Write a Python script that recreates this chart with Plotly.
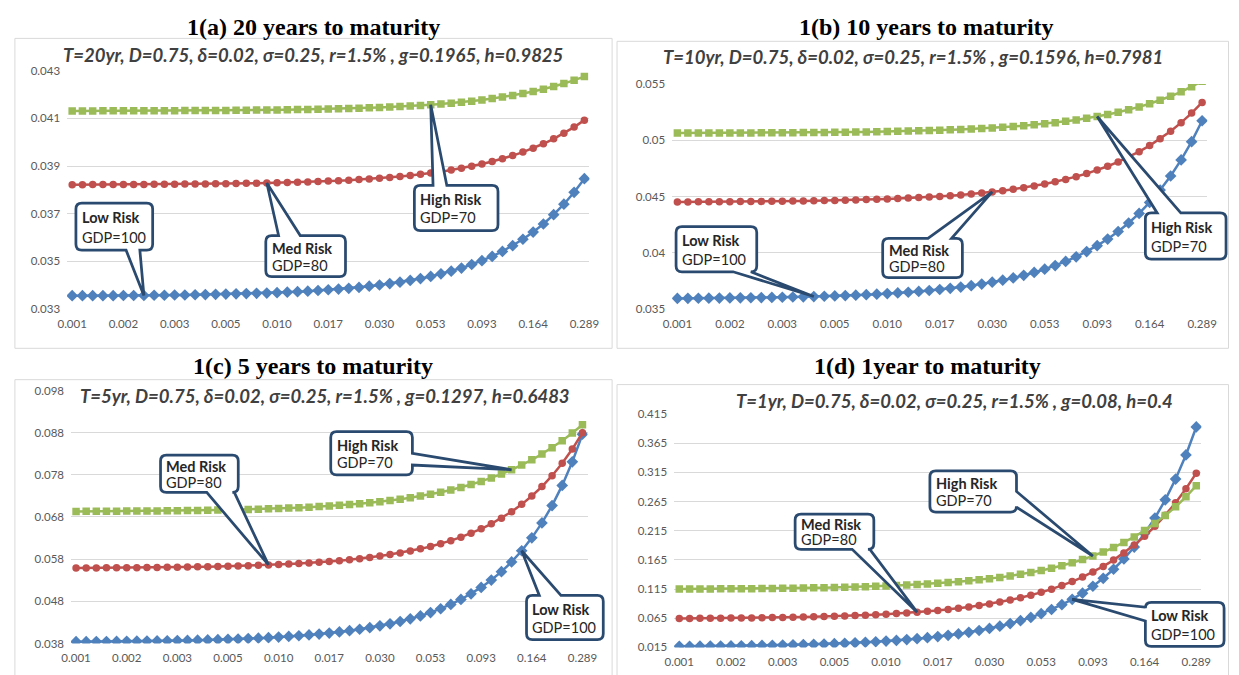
import plotly.graph_objects as go

# ---------------------------------------------------------------------------
# Data: default spread on the horizontal axis (51 points, label every 5th)
# ---------------------------------------------------------------------------
tick_labels = ["0.001", "0.002", "0.003", "0.005", "0.010", "0.017",
               "0.030", "0.053", "0.093", "0.164", "0.289"]
LABEL_EVERY = 5

# T = 20 years
low_20 = [0.03356, 0.03356, 0.03356, 0.03356, 0.03356, 0.03357, 0.03357, 0.03357, 0.03358, 0.03358,
          0.03359, 0.03359, 0.03360, 0.03361, 0.03362, 0.03363, 0.03364, 0.03365, 0.03366, 0.03367,
          0.03369, 0.03371, 0.03373, 0.03375, 0.03378, 0.03381, 0.03384, 0.03387, 0.03391, 0.03396,
          0.03401, 0.03407, 0.03413, 0.03420, 0.03428, 0.03437, 0.03448, 0.03459, 0.03472, 0.03487,
          0.03503, 0.03521, 0.03542, 0.03566, 0.03593, 0.03623, 0.03657, 0.03696, 0.03740, 0.03790,
          0.03847]
med_20 = [0.038219, 0.038221, 0.038222, 0.038223, 0.038225, 0.038227, 0.038229, 0.038231, 0.038233, 0.038236,
          0.038239, 0.038243, 0.038247, 0.038251, 0.038256, 0.038261, 0.038268, 0.038275, 0.038282, 0.038291,
          0.038301, 0.038312, 0.038324, 0.038337, 0.038353, 0.038370, 0.038389, 0.038410, 0.038435, 0.038461,
          0.038492, 0.038525, 0.038563, 0.038606, 0.038653, 0.038706, 0.038766, 0.038833, 0.038907, 0.038991,
          0.039085, 0.039190, 0.039307, 0.039439, 0.039586, 0.039751, 0.039936, 0.040144, 0.040376, 0.040636,
          0.040927]
high_20 = [0.041315, 0.041316, 0.041316, 0.041317, 0.041318, 0.041319, 0.041320, 0.041321, 0.041322, 0.041324,
           0.041326, 0.041327, 0.041329, 0.041332, 0.041334, 0.041337, 0.041341, 0.041344, 0.041348, 0.041353,
           0.041358, 0.041364, 0.041371, 0.041378, 0.041386, 0.041395, 0.041405, 0.041417, 0.041429, 0.041444,
           0.041460, 0.041478, 0.041498, 0.041520, 0.041546, 0.041574, 0.041606, 0.041641, 0.041681, 0.041725,
           0.041775, 0.041831, 0.041894, 0.041964, 0.042042, 0.042130, 0.042228, 0.042339, 0.042462, 0.042600,
           0.042755]

# T = 10 years
low_10 = [0.035949, 0.035955, 0.035961, 0.035969, 0.035977, 0.035986, 0.035997, 0.036008, 0.036021, 0.036036,
          0.036052, 0.036071, 0.036091, 0.036114, 0.036140, 0.036169, 0.036201, 0.036237, 0.036278, 0.036324,
          0.036375, 0.036432, 0.036496, 0.036568, 0.036648, 0.036739, 0.036840, 0.036954, 0.037082, 0.037225,
          0.037386, 0.037567, 0.037770, 0.037998, 0.038255, 0.038543, 0.038868, 0.039233, 0.039645, 0.040109,
          0.040633, 0.041224, 0.041892, 0.042648, 0.043503, 0.044473, 0.045574, 0.046826, 0.048251, 0.049876,
          0.051732]
med_10 = [0.044521, 0.044524, 0.044529, 0.044533, 0.044538, 0.044544, 0.044551, 0.044558, 0.044566, 0.044575,
          0.044585, 0.044597, 0.044610, 0.044624, 0.044640, 0.044658, 0.044678, 0.044701, 0.044726, 0.044754,
          0.044786, 0.044822, 0.044861, 0.044906, 0.044956, 0.045012, 0.045075, 0.045145, 0.045223, 0.045311,
          0.045410, 0.045520, 0.045644, 0.045782, 0.045937, 0.046111, 0.046305, 0.046523, 0.046767, 0.047041,
          0.047347, 0.047689, 0.048073, 0.048503, 0.048985, 0.049524, 0.050128, 0.050805, 0.051563, 0.052412,
          0.053362]
high_10 = [0.050636, 0.050638, 0.050640, 0.050642, 0.050645, 0.050648, 0.050652, 0.050655, 0.050660, 0.050664,
           0.050670, 0.050676, 0.050682, 0.050690, 0.050698, 0.050708, 0.050718, 0.050730, 0.050743, 0.050758,
           0.050774, 0.050793, 0.050814, 0.050837, 0.050863, 0.050892, 0.050925, 0.050961, 0.051002, 0.051048,
           0.051099, 0.051157, 0.051221, 0.051293, 0.051374, 0.051465, 0.051566, 0.051680, 0.051807, 0.051949,
           0.052109, 0.052287, 0.052488, 0.052712, 0.052963, 0.053244, 0.053559, 0.053911, 0.054306, 0.054749,
           0.055244]

# T = 5 years
low_5 = [0.038425, 0.038440, 0.038457, 0.038476, 0.038497, 0.038521, 0.038547, 0.038577, 0.038611, 0.038648,
         0.038690, 0.038737, 0.038789, 0.038848, 0.038915, 0.038989, 0.039072, 0.039166, 0.039271, 0.039388,
         0.039521, 0.039669, 0.039836, 0.040023, 0.040234, 0.040471, 0.040737, 0.041038, 0.041376, 0.041757,
         0.042187, 0.042672, 0.043221, 0.043841, 0.044544, 0.045341, 0.046245, 0.047272, 0.048442, 0.049776,
         0.051299, 0.053043, 0.055043, 0.057342, 0.059990, 0.063048, 0.066588, 0.070699, 0.075485, 0.081075,
         0.087622]
med_5 = [0.055896, 0.055908, 0.055920, 0.055935, 0.055951, 0.055969, 0.055990, 0.056013, 0.056038, 0.056067,
         0.056099, 0.056135, 0.056175, 0.056220, 0.056271, 0.056327, 0.056391, 0.056462, 0.056541, 0.056631,
         0.056731, 0.056843, 0.056969, 0.057111, 0.057269, 0.057447, 0.057647, 0.057871, 0.058123, 0.058406,
         0.058724, 0.059081, 0.059483, 0.059935, 0.060444, 0.061017, 0.061662, 0.062391, 0.063213, 0.064142,
         0.065192, 0.066380, 0.067728, 0.069256, 0.070992, 0.072968, 0.075220, 0.077791, 0.080731, 0.084100,
         0.087971]
high_5 = [0.069330, 0.069340, 0.069350, 0.069362, 0.069376, 0.069391, 0.069408, 0.069427, 0.069448, 0.069472,
          0.069498, 0.069528, 0.069561, 0.069598, 0.069640, 0.069687, 0.069739, 0.069798, 0.069863, 0.069937,
          0.070019, 0.070111, 0.070214, 0.070329, 0.070457, 0.070601, 0.070762, 0.070942, 0.071144, 0.071369,
          0.071620, 0.071901, 0.072214, 0.072564, 0.072955, 0.073390, 0.073876, 0.074417, 0.075019, 0.075690,
          0.076434, 0.077262, 0.078179, 0.079196, 0.080320, 0.081562, 0.082931, 0.084437, 0.086089, 0.087896,
          0.089865]

# T = 1 year
low_1 = [0.016831, 0.016955, 0.017093, 0.017249, 0.017424, 0.017618, 0.017837, 0.018082, 0.018356, 0.018664,
         0.019008, 0.019395, 0.019827, 0.020312, 0.020856, 0.021467, 0.022150, 0.022917, 0.023777, 0.024742,
         0.025824, 0.027039, 0.028402, 0.029933, 0.031653, 0.033585, 0.035756, 0.038197, 0.040942, 0.044032,
         0.047512, 0.051431, 0.055851, 0.060838, 0.066469, 0.072832, 0.080032, 0.088186, 0.097433, 0.107932,
         0.119868, 0.133462, 0.148968, 0.166688, 0.186977, 0.210255, 0.236823, 0.267876, 0.303529, 0.344834,
         0.392818]
med_1 = [0.064565, 0.064669, 0.064785, 0.064915, 0.065062, 0.065224, 0.065408, 0.065613, 0.065842, 0.066099,
         0.066387, 0.066709, 0.067070, 0.067474, 0.067927, 0.068435, 0.069003, 0.069639, 0.070352, 0.071150,
         0.072044, 0.073046, 0.074167, 0.075423, 0.076830, 0.078405, 0.080170, 0.082146, 0.084360, 0.086839,
         0.089615, 0.092725, 0.096208, 0.100110, 0.104479, 0.109372, 0.114853, 0.120991, 0.127866, 0.135566,
         0.144189, 0.153848, 0.164665, 0.176782, 0.190352, 0.205550, 0.222571, 0.241636, 0.262988, 0.286903,
         0.313687]
high_1 = [0.115015, 0.115089, 0.115171, 0.115264, 0.115368, 0.115484, 0.115614, 0.115760, 0.115923, 0.116105,
          0.116310, 0.116540, 0.116796, 0.117083, 0.117406, 0.117767, 0.118170, 0.118623, 0.119129, 0.119697,
          0.120332, 0.121045, 0.121842, 0.122735, 0.123735, 0.124855, 0.126110, 0.127515, 0.129089, 0.130851,
          0.132825, 0.135036, 0.137513, 0.140287, 0.143393, 0.146872, 0.150769, 0.155133, 0.160021, 0.165495,
          0.171626, 0.178494, 0.186185, 0.194799, 0.204447, 0.215253, 0.227355, 0.240909, 0.256091, 0.273093,
          0.292136]

# y-axis ticks per panel
yticks_20 = [0.033, 0.035, 0.037, 0.039, 0.041, 0.043]
ylabels_20 = ["0.033", "0.035", "0.037", "0.039", "0.041", "0.043"]
yticks_10 = [0.035, 0.040, 0.045, 0.050, 0.055]
ylabels_10 = ["0.035", "0.04", "0.045", "0.05", "0.055"]
yticks_5 = [0.038, 0.048, 0.058, 0.068, 0.078, 0.088, 0.098]
ylabels_5 = ["0.038", "0.048", "0.058", "0.068", "0.078", "0.088", "0.098"]
yticks_1 = [0.015, 0.065, 0.115, 0.165, 0.215, 0.265, 0.315, 0.365, 0.415]
ylabels_1 = ["0.015", "0.065", "0.115", "0.165", "0.215", "0.265", "0.315", "0.365", "0.415"]

# ---------------------------------------------------------------------------
# Styling / page geometry (pixels)
# ---------------------------------------------------------------------------
W, H = 1239, 675
BLUE, RED, GREEN = "#4F81BD", "#C0504D", "#9BBB59"
FRAME = "#D9D9D9"
TICK_GREY = "#595959"
CALLOUT_LINE = "#2B4A6F"
SANS = "Lato, 'Noto Sans', 'Liberation Sans', sans-serif"
SERIF = "'Liberation Serif', 'Times New Roman', serif"

n_points = len(low_20)
positions = list(range(n_points))
X_RANGE = [-0.5, n_points - 0.5]

panels = [
    dict(title="1(a) 20 years to maturity", title_xy=(308, 20),
         note="T=20yr, D=0.75, δ=0.02, σ=0.25, r=1.5% , g=0.1965, h=0.9825", note_xy=(308, 49),
         series=dict(low=low_20, med=med_20, high=high_20),
         yrange=[0.033, 0.043], yticks=yticks_20, ylabels=ylabels_20,
         plot=(58, 65, 589, 308), frame=(5, 32, 612, 348),
         callouts=[
             dict(series="low", at=7, head="Low Risk", sub="GDP=100",
                  box=(67, 200, 145, 248), edge="bottom", base=(118, 132)),
             dict(series="med", at=19, head="Med Risk", sub="GDP=80",
                  box=(260, 233, 341, 275), edge="top", base=(273, 295)),
             dict(series="high", at=35, head="High Risk", sub="GDP=70",
                  box=(411, 182, 496, 228), edge="top", base=(430, 444)),
         ]),
    dict(title="1(b) 10 years to maturity", title_xy=(932, 20),
         note="T=10yr, D=0.75, δ=0.02, σ=0.25, r=1.5% , g=0.1596, h=0.7981", note_xy=(918, 51),
         series=dict(low=low_10, med=med_10, high=high_10),
         yrange=[0.035, 0.055], yticks=yticks_10, ylabels=ylabels_10,
         plot=(673, 78.5, 1217, 308), frame=(617, 35, 1238.5, 348),
         callouts=[
             dict(series="low", at=13, head="Low Risk", sub="GDP=100",
                  box=(677, 224, 759, 270), edge="bottom", base=(735, 753)),
             dict(series="med", at=30, head="Med Risk", sub="GDP=80",
                  box=(887, 236, 968, 276), edge="top", base=(933, 957)),
             dict(series="high", at=40, head="High Risk", sub="GDP=70",
                  box=(1154, 210, 1236, 257), edge="top", base=(1166, 1190)),
         ]),
    dict(title="1(c) 5 years to maturity", title_xy=(308, 366),
         note="T=5yr, D=0.75, δ=0.02, σ=0.25, r=1.5% , g=0.1297, h=0.6483", note_xy=(320, 397),
         series=dict(low=low_5, med=med_5, high=high_5),
         yrange=[0.038, 0.098], yticks=yticks_5, ylabels=ylabels_5,
         plot=(62, 391, 587, 649), frame=(5, 380, 612, 690),
         callouts=[
             dict(series="med", at=19, head="Med Risk", sub="GDP=80",
                  box=(153, 457, 232, 495), edge="bottom", base=(200, 228)),
             dict(series="high", at=43, head="High Risk", sub="GDP=70",
                  box=(326, 433, 409, 477), edge="right", base=(455, 467)),
             dict(series="low", at=44, head="Low Risk", sub="GDP=100",
                  box=(525, 600, 603, 645), edge="top", base=(538, 560)),
         ]),
    dict(title="1(d) 1year to maturity", title_xy=(933, 366),
         note="T=1yr, D=0.75, δ=0.02, σ=0.25, r=1.5% , g=0.08, h=0.4", note_xy=(960, 402),
         series=dict(low=low_1, med=med_1, high=high_1),
         yrange=[0.015, 0.415], yticks=yticks_1, ylabels=ylabels_1,
         plot=(675, 415, 1211, 653), frame=(617, 385, 1238.5, 690),
         callouts=[
             dict(series="med", at=23, head="Med Risk", sub="GDP=80",
                  box=(798, 517, 878, 553), edge="bottom", base=(856, 874)),
             dict(series="high", at=40, head="High Risk", sub="GDP=70",
                  box=(935, 473, 1023, 515), edge="right", base=(494, 510)),
             dict(series="low", at=38, head="Low Risk", sub="GDP=100",
                  box=(1154, 607, 1234, 652), edge="left", base=(612, 626)),
         ]),
]

STYLE = dict(
    low=dict(color=BLUE, symbol="diamond", size=9),
    med=dict(color=RED, symbol="circle", size=7.5),
    high=dict(color=GREEN, symbol="square", size=7.5),
)


def paper(x, y):
    return x / W, 1 - y / H


def pt(x, y):
    px, py = paper(x, y)
    return f"{px:.5f},{py:.5f}"


def data_to_px(panel, i, v):
    left, top, right, bottom = panel["plot"]
    x0, x1 = X_RANGE
    y0, y1 = panel["yrange"]
    return (left + (i - x0) / (x1 - x0) * (right - left),
            bottom - (v - y0) / (y1 - y0) * (bottom - top))


def callout_path(box, edge, base, tip, r=6):
    """Rounded rectangle outline with a wedge running out to the tip."""
    x0, y0, x1, y1 = box
    b1, b2 = base
    tx, ty = tip
    d = f"M{pt(x0 + r, y0)}"
    if edge == "top":
        d += f" L{pt(b1, y0)} L{pt(tx, ty)} L{pt(b2, y0)}"
    d += f" L{pt(x1 - r, y0)} Q{pt(x1, y0)} {pt(x1, y0 + r)}"
    if edge == "right":
        d += f" L{pt(x1, b1)} L{pt(tx, ty)} L{pt(x1, b2)}"
    d += f" L{pt(x1, y1 - r)} Q{pt(x1, y1)} {pt(x1 - r, y1)}"
    if edge == "bottom":
        d += f" L{pt(b2, y1)} L{pt(tx, ty)} L{pt(b1, y1)}"
    d += f" L{pt(x0 + r, y1)} Q{pt(x0, y1)} {pt(x0, y1 - r)}"
    if edge == "left":
        d += f" L{pt(x0, b2)} L{pt(tx, ty)} L{pt(x0, b1)}"
    d += f" L{pt(x0, y0 + r)} Q{pt(x0, y0)} {pt(x0 + r, y0)} Z"
    return d


fig = go.Figure()
shapes, annotations, axes = [], [], {}

for k, p in enumerate(panels, start=1):
    suffix = "" if k == 1 else str(k)
    xa, ya = f"x{suffix}", f"y{suffix}"

    for key in ("low", "med", "high"):
        st = STYLE[key]
        fig.add_trace(go.Scatter(
            x=positions, y=p["series"][key], xaxis=xa, yaxis=ya,
            mode="lines+markers",
            line=dict(color=st["color"], width=2.5),
            marker=dict(symbol=st["symbol"], size=st["size"], color=st["color"]),
            showlegend=False, hoverinfo="skip",
        ))

    left, top, right, bottom = p["plot"]
    axes[f"xaxis{suffix}"] = dict(
        domain=[left / W, right / W], range=X_RANGE, anchor=ya,
        tickvals=positions[::LABEL_EVERY], ticktext=tick_labels,
        showgrid=False, zeroline=False, showline=False, ticks="",
        ticklabelstandoff=6,
        tickfont=dict(family=SANS, size=11.5, color=TICK_GREY), fixedrange=True,
    )
    axes[f"yaxis{suffix}"] = dict(
        domain=[1 - bottom / H, 1 - top / H], range=p["yrange"], anchor=xa,
        tickvals=p["yticks"], ticktext=p["ylabels"],
        showgrid=True, gridcolor=FRAME, gridwidth=1,
        zeroline=False, showline=False, ticks="", ticklabelstandoff=6,
        tickfont=dict(family=SANS, size=11.5, color=TICK_GREY), fixedrange=True,
    )

    # chart-area frame
    fx0, fy0, fx1, fy1 = p["frame"]
    px0, py0 = paper(fx0, fy0)
    px1, py1 = paper(fx1, fy1)
    shapes.append(dict(type="rect", xref="paper", yref="paper",
                       x0=px0, y0=py1, x1=px1, y1=py0,
                       line=dict(color=FRAME, width=1), fillcolor="rgba(0,0,0,0)",
                       layer="below"))

    # panel heading and parameter line
    tx, ty = paper(*p["title_xy"])
    annotations.append(dict(xref="paper", yref="paper", x=tx, y=ty,
                            text=f"<b>{p['title']}</b>", showarrow=False,
                            xanchor="center", yanchor="middle",
                            font=dict(family=SERIF, size=24, color="#000000")))
    nx, ny = paper(*p["note_xy"])
    annotations.append(dict(xref="paper", yref="paper", x=nx, y=ny,
                            text=f"<b><i>{p['note']}</i></b>", showarrow=False,
                            xanchor="center", yanchor="middle",
                            font=dict(family=SANS, size=18.5, color="#404040")))

    # risk-class callouts pointing at a marker of their curve
    for c in p["callouts"]:
        tip = data_to_px(p, c["at"], p["series"][c["series"]][c["at"]])
        shapes.append(dict(type="path", xref="paper", yref="paper",
                           path=callout_path(c["box"], c["edge"], c["base"], tip),
                           fillcolor="white",
                           line=dict(color=CALLOUT_LINE, width=2.75),
                           layer="above"))
        bx0, by0, bx1, by1 = c["box"]
        h = by1 - by0
        for frac, txt in ((0.31, f"<b>{c['head']}</b>"), (0.72, c["sub"])):
            ax, ay = paper(bx0 + 4, by0 + frac * h)
            annotations.append(dict(xref="paper", yref="paper", x=ax, y=ay,
                                    text=txt, showarrow=False,
                                    xanchor="left", yanchor="middle",
                                    font=dict(family=SANS, size=14.5, color="#262626")))

fig.update_layout(
    width=W, height=H, margin=dict(l=0, r=0, t=0, b=0),
    paper_bgcolor="white", plot_bgcolor="rgba(0,0,0,0)",
    showlegend=False, shapes=shapes, annotations=annotations,
    **axes,
)

fig.write_html("out.html", config=dict(displayModeBar=False))
